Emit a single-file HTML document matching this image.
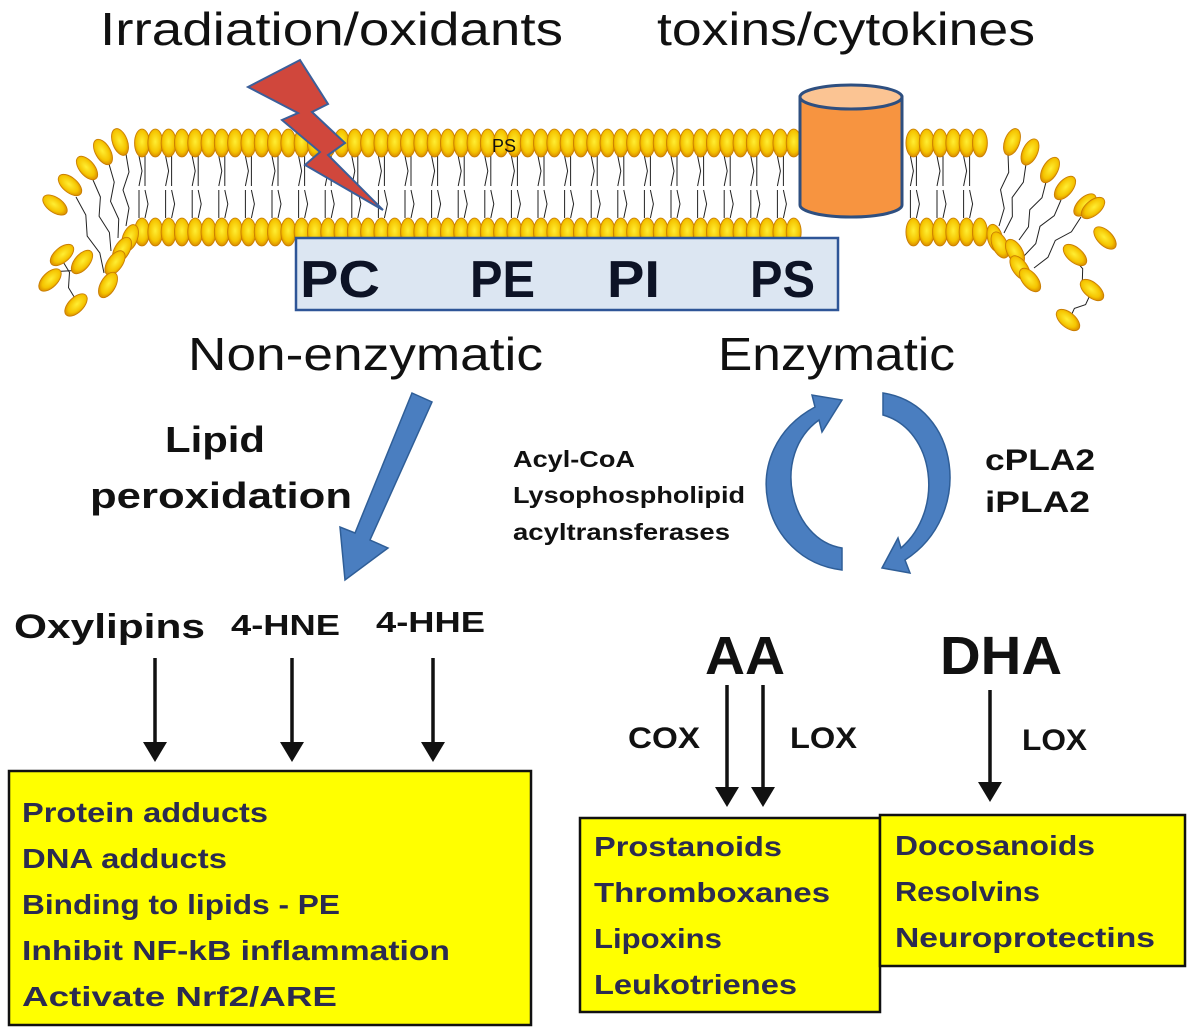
<!DOCTYPE html>
<html><head><meta charset="utf-8"><style>
body{margin:0;background:#fff;width:1200px;height:1035px;overflow:hidden}
svg{display:block}
text{font-family:"Liberation Sans",sans-serif}
.b{font-weight:bold}
</style></head><body>
<svg id="s" width="1200" height="1035" viewBox="0 0 1200 1035" xmlns="http://www.w3.org/2000/svg">
<defs>
<radialGradient id="hg" cx="50%" cy="45%" r="55%"><stop offset="0" stop-color="#ffee33"/><stop offset="0.7" stop-color="#f5c400"/><stop offset="1" stop-color="#d88a00"/></radialGradient>
</defs>
<g id="tails" stroke="#222" stroke-width="1" fill="none"></g>
<g id="heads"></g>
<text x="100" y="45" font-size="46" fill="#111" textLength="463" lengthAdjust="spacingAndGlyphs">Irradiation/oxidants</text>
<text x="657" y="45" font-size="46" fill="#111" textLength="378" lengthAdjust="spacingAndGlyphs">toxins/cytokines</text>
<text x="492" y="152" font-size="18" fill="#111">PS</text>
<polygon points="248,87 300,60 328,104 312,112 345,143 328,155 383,210 305,165 320,152 282,120 298,113" fill="#d0473c" stroke="#3b5f9a" stroke-width="2"/>
<path d="M800,97 L800,205 A51,12 0 0 0 902,205 L902,97 Z" fill="#f79440" stroke="#2e4f80" stroke-width="3"/>
<ellipse cx="851" cy="97" rx="51" ry="12" fill="#fbc493" stroke="#2e4f80" stroke-width="3"/>
<rect x="296" y="238" width="542" height="72" fill="#dce6f2" stroke="#2e5597" stroke-width="2.5"/>
<g font-size="52" class="b" fill="#0d1326">
<text x="300" y="297" textLength="80" lengthAdjust="spacingAndGlyphs">PC</text>
<text x="470" y="297" textLength="65" lengthAdjust="spacingAndGlyphs">PE</text>
<text x="607" y="297" textLength="53" lengthAdjust="spacingAndGlyphs">PI</text>
<text x="750" y="297" textLength="65" lengthAdjust="spacingAndGlyphs">PS</text>
</g>
<text x="188" y="370" font-size="46" fill="#111" textLength="355" lengthAdjust="spacingAndGlyphs">Non-enzymatic</text>
<text x="718" y="370" font-size="46" fill="#111" textLength="237" lengthAdjust="spacingAndGlyphs">Enzymatic</text>
<text x="165" y="452" font-size="36" class="b" fill="#111" textLength="100" lengthAdjust="spacingAndGlyphs">Lipid</text>
<text x="90" y="508" font-size="36" class="b" fill="#111" textLength="262" lengthAdjust="spacingAndGlyphs">peroxidation</text>
<polygon points="412,393 432,402 370,540 388,548 345,580 340,527 355,533" fill="#4a7ec0" stroke="#2f5e97" stroke-width="1.5"/>
<g font-size="23" class="b" fill="#111">
<text x="513" y="467" textLength="122" lengthAdjust="spacingAndGlyphs">Acyl-CoA</text>
<text x="513" y="503" textLength="232" lengthAdjust="spacingAndGlyphs">Lysophospholipid</text>
<text x="513" y="540" textLength="217" lengthAdjust="spacingAndGlyphs">acyltransferases</text>
</g>
<text x="985" y="470" font-size="30" class="b" fill="#111" textLength="110" lengthAdjust="spacingAndGlyphs">cPLA2</text>
<text x="985" y="512" font-size="30" class="b" fill="#111" textLength="105" lengthAdjust="spacingAndGlyphs">iPLA2</text>
<path d="M842,570 C760,560 735,450 815,407 L812,395 L842,400 L822,432 L819,420 C770,455 790,540 842,548 Z" fill="#4a7ec0" stroke="#2f5e97" stroke-width="1.5"/>
<path d="M883,393 C960,405 975,515 905,560 L910,573 L882,568 L898,538 L901,548 C945,510 935,430 883,415 Z" fill="#4a7ec0" stroke="#2f5e97" stroke-width="1.5"/>
<text x="14" y="638" font-size="34" class="b" fill="#111" textLength="191" lengthAdjust="spacingAndGlyphs">Oxylipins</text>
<text x="231" y="635" font-size="29" class="b" fill="#111" textLength="109" lengthAdjust="spacingAndGlyphs">4-HNE</text>
<text x="376" y="632" font-size="29" class="b" fill="#111" textLength="109" lengthAdjust="spacingAndGlyphs">4-HHE</text>
<text x="705" y="674" font-size="54" class="b" fill="#111" textLength="80" lengthAdjust="spacingAndGlyphs">AA</text>
<text x="940" y="674" font-size="54" class="b" fill="#111" textLength="122" lengthAdjust="spacingAndGlyphs">DHA</text>
<text x="628" y="748" font-size="30" class="b" fill="#111" textLength="72" lengthAdjust="spacingAndGlyphs">COX</text>
<text x="790" y="748" font-size="30" class="b" fill="#111" textLength="67" lengthAdjust="spacingAndGlyphs">LOX</text>
<text x="1022" y="750" font-size="30" class="b" fill="#111" textLength="65" lengthAdjust="spacingAndGlyphs">LOX</text>
<g stroke="#111" stroke-width="3.5" fill="#111">
<line x1="155" y1="658" x2="155" y2="750"/><polygon points="143,742 167,742 155,762" stroke="none"/>
<line x1="292" y1="658" x2="292" y2="750"/><polygon points="280,742 304,742 292,762" stroke="none"/>
<line x1="433" y1="658" x2="433" y2="750"/><polygon points="421,742 445,742 433,762" stroke="none"/>
<line x1="727" y1="685" x2="727" y2="795"/><polygon points="715,787 739,787 727,807" stroke="none"/>
<line x1="763" y1="685" x2="763" y2="795"/><polygon points="751,787 775,787 763,807" stroke="none"/>
<line x1="990" y1="690" x2="990" y2="790"/><polygon points="978,782 1002,782 990,802" stroke="none"/>
</g>
<g stroke="#111" stroke-width="2.5" fill="#ffff00">
<rect x="9" y="771" width="522" height="254"/>
<rect x="580" y="818" width="300" height="194"/>
<rect x="880" y="815" width="305" height="151"/>
</g>
<g font-size="28" class="b" fill="#2b2b50" lengthAdjust="spacingAndGlyphs">
<text x="22" y="822" textLength="246" lengthAdjust="spacingAndGlyphs">Protein adducts</text>
<text x="22" y="868" textLength="205" lengthAdjust="spacingAndGlyphs">DNA adducts</text>
<text x="22" y="914" textLength="318" lengthAdjust="spacingAndGlyphs">Binding to lipids - PE</text>
<text x="22" y="960" textLength="428" lengthAdjust="spacingAndGlyphs">Inhibit NF-kB inflammation</text>
<text x="22" y="1006" textLength="315" lengthAdjust="spacingAndGlyphs">Activate Nrf2/ARE</text>
<text x="594" y="856" textLength="188" lengthAdjust="spacingAndGlyphs">Prostanoids</text>
<text x="594" y="902" textLength="236" lengthAdjust="spacingAndGlyphs">Thromboxanes</text>
<text x="594" y="948" textLength="128" lengthAdjust="spacingAndGlyphs">Lipoxins</text>
<text x="594" y="994" textLength="203" lengthAdjust="spacingAndGlyphs">Leukotrienes</text>
<text x="895" y="855" textLength="200" lengthAdjust="spacingAndGlyphs">Docosanoids</text>
<text x="895" y="901" textLength="145" lengthAdjust="spacingAndGlyphs">Resolvins</text>
<text x="895" y="947" textLength="260" lengthAdjust="spacingAndGlyphs">Neuroprotectins</text>
</g>
</svg>
<script>
(function(){
var NS="http://www.w3.org/2000/svg",H=document.getElementById('heads'),T=document.getElementById('tails');
function head(x,y,a){var e=document.createElementNS(NS,'ellipse');e.setAttribute('cx',x);e.setAttribute('cy',y);e.setAttribute('rx',7.5);e.setAttribute('ry',14);e.setAttribute('fill','url(#hg)');e.setAttribute('stroke','#c77a00');e.setAttribute('stroke-width','0.8');e.setAttribute('transform','rotate('+a+' '+x+' '+y+')');H.appendChild(e);}
function line(x1,y1,x2,y2,n){n=n||3;var p=document.createElementNS(NS,'polyline');var pts=[];for(var i=0;i<=n;i++){var t=i/n,x=x1+(x2-x1)*t,y=y1+(y2-y1)*t;var off=(i%2?3:-3)*(i>0&&i<n?1:0);var dx=y2-y1,dy=-(x2-x1),L=Math.hypot(dx,dy)||1;pts.push((x+off*dx/L)+','+(y+off*dy/L));}p.setAttribute('points',pts.join(' '));T.appendChild(p);}
var k=0;
for(var x=142;x<=990;x+=13.3){k++;
 if(x>800&&x<902)continue;
 if(k%2){line(x-3,156,x-3,186,2);line(x+3,156,x+3,186,1);line(x-3,190,x-3,218,1);line(x+3,190,x+3,218,2);}
 head(x,143,0);head(x,232,0);
}
var L=[[120,142,-20],[103,152,-30],[87,168,-40],[70,185,-50],[55,205,-55]];
var Li=[[130,238,20],[122,250,30],[115,263,35],[108,285,30]];
var R=[[1012,142,20],[1030,152,25],[1050,170,30],[1065,188,40],[1085,205,45],[1093,208,50]];
var Ri=[[995,238,-15],[1000,245,-25],[1015,252,-30],[1020,268,-35],[1030,280,-40]];
[L,Li,R,Ri].forEach(function(a){a.forEach(function(p){head(p[0],p[1],p[2]);});});
for(var i=0;i<4;i++){line(L[i][0]+6,L[i][1]+12,Li[i][0]-4,Li[i][1]-12,4);}
for(var i=0;i<5;i++){line(R[i][0]-4,R[i][1]+12,Ri[i][0]+4,Ri[i][1]-12,4);}
head(62,255,50);head(50,280,45);head(82,262,40);head(76,305,45);
line(62,260,76,300);line(50,280,82,262);
head(1075,255,-50);head(1092,290,-50);head(1068,320,-50);head(1105,238,-45);
line(1075,260,1090,290);line(1090,295,1070,318);
})();
</script>
</body></html>
